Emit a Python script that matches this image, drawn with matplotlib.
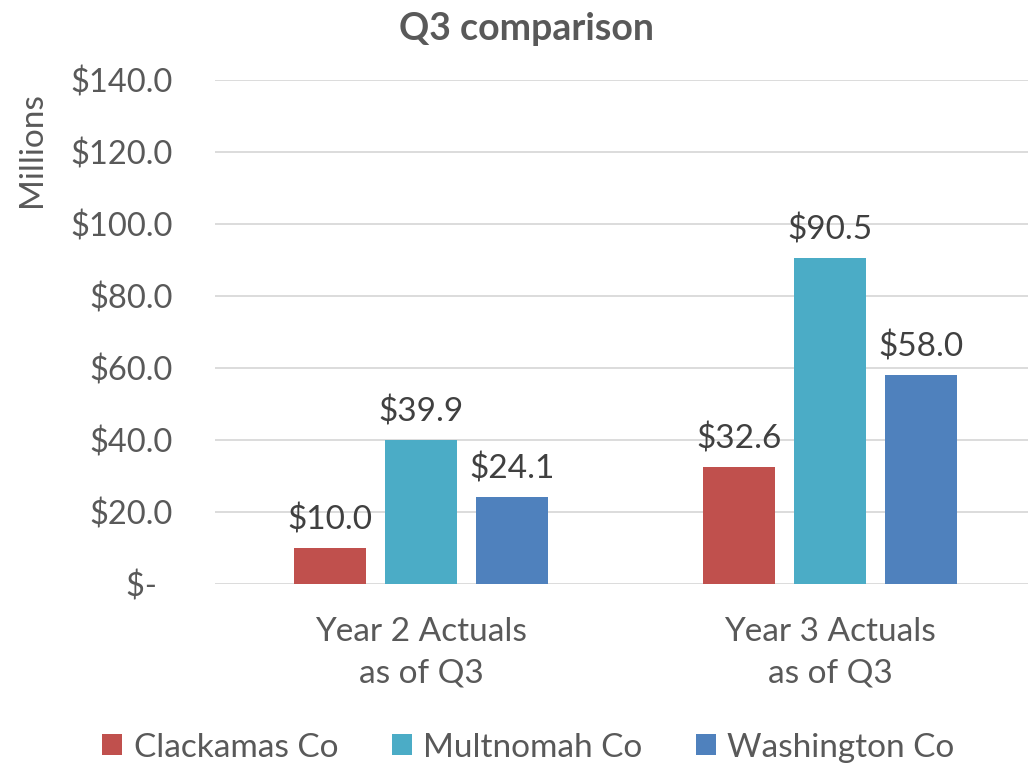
import matplotlib.pyplot as plt
import numpy as np

plt.rcParams['font.family'] = ['Lato', 'DejaVu Sans']

categories = ['Year 2 Actuals\nas of Q3', 'Year 3 Actuals\nas of Q3']
series = ['Clackamas Co', 'Multnomah Co', 'Washington Co']
values = {
    'Clackamas Co': [10.0, 32.6],
    'Multnomah Co': [39.9, 90.5],
    'Washington Co': [24.1, 58.0],
}
colors = ['#C0504D', '#4BACC6', '#4F81BD']
yticks = [0, 20, 40, 60, 80, 100, 120, 140]
ytick_labels = ['$-  ', '$20.0', '$40.0', '$60.0', '$80.0', '$100.0', '$120.0', '$140.0']

grey = '#595959'

fig = plt.figure(figsize=(10.28, 7.65), dpi=100)
ax = fig.add_axes([0.209, 0.2366, 0.791, 0.6588])

x = np.arange(len(categories))
width = 0.176
step = 0.2225
for i, name in enumerate(series):
    pos = x + (i - 1) * step
    bars = ax.bar(pos, values[name], width, color=colors[i], label=name, zorder=3)
    for b, v in zip(bars, values[name]):
        ax.text(b.get_x() + b.get_width() / 2, v + 3.5, f'${v:.1f}',
                ha='center', va='bottom', fontsize=24, color='#404040')

ax.set_xlim(-0.504, 1.484)
ax.set_ylim(0, 140)
ax.set_yticks(yticks)
ax.set_yticklabels(ytick_labels, fontsize=23.5, color=grey)
ax.set_xticks(x)
ax.set_xticklabels(categories, fontsize=24, color=grey, linespacing=1.45)
ax.tick_params(axis='y', length=0, pad=30)
ax.tick_params(axis='x', length=0, pad=24)
ax.yaxis.grid(True, color='#D9D9D9', linewidth=1.3, zorder=0)
for s in ax.spines.values():
    s.set_visible(False)

fig.text(0.512, 0.962, 'Q3 comparison', ha='center', va='center',
         fontsize=27, fontweight='bold', color=grey)
fig.text(0.031, 0.804, 'Millions', rotation=90, ha='center', va='center',
         fontsize=24, color=grey)

leg = fig.legend(loc='lower center', bbox_to_anchor=(0.514, -0.036), ncol=3,
                 frameon=False, fontsize=24, handlelength=0.6, handleheight=0.6,
                 handletextpad=0.35, columnspacing=1.6)
for t in leg.get_texts():
    t.set_color(grey)

fig.savefig('out.png', dpi=100)
